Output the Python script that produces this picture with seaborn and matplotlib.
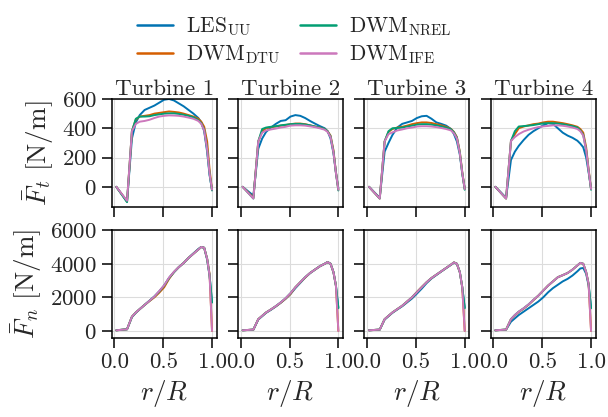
import matplotlib
matplotlib.use('Agg')
import matplotlib.pyplot as plt
from matplotlib.lines import Line2D
import seaborn as sns
import pandas as pd

# radial stations (r/R), common to every series
r = [0.02, 0.13, 0.18, 0.22, 0.26, 0.31, 0.36, 0.41, 0.46, 0.51, 0.56,
     0.61, 0.66, 0.71, 0.76, 0.81, 0.86, 0.89, 0.92, 0.95, 0.975, 1.0]

turbines = ['Turbine 1', 'Turbine 2', 'Turbine 3', 'Turbine 4']
models = ['LES', 'DTU', 'NREL', 'IFE']
labels = [r'$\mathrm{LES}_{\mathrm{UU}}$', r'$\mathrm{DWM}_{\mathrm{DTU}}$',
          r'$\mathrm{DWM}_{\mathrm{NREL}}$', r'$\mathrm{DWM}_{\mathrm{IFE}}$']
colors = ['#0173b2', '#d55e00', '#029e73', '#cc78bc']

# tangential force [N/m], one row per turbine
ft_les = [
    [0, -100, 330, 440, 490, 525, 540, 555, 575, 595, 600, 590, 570, 550, 525, 500, 470, 440, 380, 240, 80, -20],
    [0, -60, 260, 330, 375, 405, 430, 450, 455, 480, 490, 485, 470, 450, 432, 415, 400, 380, 330, 230, 100, -10],
    [0, -75, 240, 300, 354, 405, 430, 440, 450, 470, 482, 485, 465, 440, 430, 418, 395, 360, 310, 220, 90, -10],
    [0, -75, 183, 240, 280, 320, 355, 380, 400, 420, 435, 430, 400, 370, 350, 335, 315, 295, 270, 200, 100, -10],
]
ft_dtu = [
    [0, -100, 380, 460, 480, 485, 490, 500, 505, 510, 515, 512, 508, 500, 490, 480, 465, 445, 410, 310, 120, -20],
    [0, -75, 310, 380, 400, 408, 412, 418, 422, 428, 432, 432, 428, 420, 412, 405, 395, 380, 350, 250, 100, -20],
    [0, -80, 310, 375, 395, 405, 410, 418, 428, 435, 440, 440, 436, 428, 420, 410, 395, 375, 340, 240, 100, -15],
    [0, -80, 313, 360, 400, 412, 420, 428, 432, 440, 445, 445, 440, 435, 428, 420, 410, 395, 370, 270, 120, -15],
]
ft_nrel = [
    [0, -105, 380, 465, 480, 480, 482, 490, 495, 500, 502, 502, 498, 492, 485, 475, 455, 435, 390, 260, 90, -25],
    [0, -80, 310, 395, 405, 410, 414, 420, 424, 428, 430, 430, 426, 420, 412, 405, 395, 378, 345, 240, 95, -25],
    [0, -80, 310, 380, 400, 402, 405, 412, 418, 425, 428, 428, 425, 420, 413, 405, 393, 372, 335, 235, 95, -20],
    [0, -80, 313, 380, 412, 415, 418, 422, 428, 433, 435, 435, 432, 428, 422, 415, 405, 385, 355, 250, 110, -20],
]
ft_ife = [
    [0, -95, 380, 430, 445, 450, 458, 470, 480, 485, 488, 487, 485, 480, 473, 465, 450, 430, 385, 255, 90, -20],
    [0, -80, 310, 370, 385, 392, 398, 405, 410, 418, 420, 420, 418, 413, 408, 400, 390, 375, 340, 235, 95, -20],
    [0, -80, 310, 360, 372, 385, 392, 400, 405, 412, 414, 414, 412, 408, 402, 395, 385, 365, 330, 230, 95, -15],
    [0, -80, 313, 340, 360, 378, 390, 400, 408, 413, 416, 420, 420, 417, 412, 405, 395, 380, 350, 250, 110, -15],
]

# normal force [N/m], one row per turbine
fn_les = [
    [40, 100, 820, 1080, 1300, 1550, 1800, 2050, 2350, 2700, 3150, 3500, 3800, 4050, 4350, 4620, 4880, 5000, 4950, 4250, 3300, 1700],
    [40, 80, 680, 880, 1080, 1260, 1460, 1680, 1920, 2200, 2550, 2860, 3180, 3440, 3650, 3850, 4000, 4100, 4000, 3500, 2700, 1400],
    [40, 80, 680, 880, 1080, 1280, 1470, 1700, 1930, 2220, 2520, 2850, 3120, 3330, 3540, 3740, 3940, 4060, 4000, 3500, 2600, 1400],
    [40, 80, 550, 750, 950, 1150, 1350, 1550, 1750, 2000, 2300, 2550, 2750, 2950, 3100, 3300, 3550, 3720, 3750, 3400, 2700, 1400],
]
fn_dtu = [
    [40, 100, 850, 1100, 1300, 1550, 1780, 2000, 2280, 2600, 3100, 3500, 3800, 4050, 4350, 4600, 4850, 5000, 4950, 4300, 3400, 0],
    [40, 80, 700, 900, 1100, 1280, 1470, 1680, 1920, 2200, 2600, 2900, 3180, 3450, 3650, 3850, 4000, 4100, 4000, 3500, 2700, 0],
    [40, 80, 700, 900, 1100, 1300, 1500, 1750, 2000, 2320, 2620, 2900, 3150, 3350, 3550, 3750, 3950, 4080, 4000, 3500, 2600, 0],
    [40, 80, 700, 930, 1130, 1330, 1560, 1830, 2100, 2400, 2700, 2950, 3200, 3320, 3450, 3650, 3900, 4050, 4000, 3500, 2800, 0],
]
fn_nrel = [
    [40, 100, 850, 1100, 1300, 1550, 1800, 2050, 2350, 2700, 3150, 3500, 3800, 4050, 4350, 4600, 4850, 5000, 4950, 4300, 3300, 1700],
    [40, 80, 700, 900, 1100, 1280, 1480, 1700, 1950, 2250, 2600, 2900, 3200, 3450, 3650, 3850, 4000, 4100, 4000, 3500, 2700, 1350],
    [40, 80, 700, 900, 1100, 1300, 1500, 1750, 2000, 2300, 2600, 2900, 3150, 3350, 3550, 3750, 3950, 4080, 4000, 3500, 2600, 1350],
    [40, 80, 700, 950, 1150, 1350, 1580, 1850, 2100, 2400, 2700, 2950, 3200, 3320, 3450, 3650, 3900, 4050, 4000, 3500, 2800, 1350],
]
fn_ife = [
    [40, 100, 850, 1100, 1300, 1550, 1800, 2050, 2380, 2720, 3180, 3520, 3800, 4050, 4350, 4600, 4850, 5000, 4950, 4300, 3300, 0],
    [40, 80, 700, 900, 1100, 1280, 1480, 1700, 1950, 2250, 2600, 2900, 3200, 3450, 3650, 3850, 4000, 4100, 4000, 3500, 2700, 0],
    [40, 80, 700, 900, 1100, 1300, 1500, 1750, 2000, 2300, 2600, 2900, 3150, 3350, 3550, 3750, 3950, 4080, 4000, 3500, 2600, 0],
    [40, 80, 700, 950, 1150, 1350, 1580, 1850, 2100, 2400, 2700, 2950, 3200, 3320, 3450, 3650, 3900, 4050, 4000, 3500, 2800, 0],
]

ft_all = {'LES': ft_les, 'DTU': ft_dtu, 'NREL': ft_nrel, 'IFE': ft_ife}
fn_all = {'LES': fn_les, 'DTU': fn_dtu, 'NREL': fn_nrel, 'IFE': fn_ife}

rows = []
for ti, tur in enumerate(turbines):
    for m in models:
        for k, rr in enumerate(r):
            rows.append({'turbine': tur, 'model': m, 'r': rr,
                         'Ft': ft_all[m][ti][k], 'Fn': fn_all[m][ti][k]})
df = pd.DataFrame(rows)

sns.set_theme(style='ticks')
plt.rcParams['font.family'] = 'serif'
plt.rcParams['font.serif'] = ['cmr10']
plt.rcParams['mathtext.fontset'] = 'cm'
plt.rcParams['axes.formatter.use_mathtext'] = True
plt.rcParams['axes.unicode_minus'] = False

palette = dict(zip(models, colors))

fig, axes = plt.subplots(2, 4, figsize=(6.08, 4.17), dpi=100, sharex=True, sharey='row')
fig.subplots_adjust(left=0.1834, right=0.980, top=0.7626, bottom=0.1894,
                    wspace=0.2, hspace=0.216)

for j, tur in enumerate(turbines):
    sub = df[df['turbine'] == tur]
    for i, q in enumerate(['Ft', 'Fn']):
        ax = axes[i, j]
        sns.lineplot(data=sub, x='r', y=q, hue='model', hue_order=models,
                     palette=palette, estimator=None, sort=False,
                     linewidth=1.4, legend=False, ax=ax)
        ax.grid(True, color='#dcdcdc', linewidth=0.8)
        ax.set_axisbelow(True)
        for s in ax.spines.values():
            s.set_linewidth(1.1)
            s.set_color('black')
        ax.tick_params(labelsize=16.5, length=7, width=1.1, color='black')
        ax.set_xlabel('')
        ax.set_ylabel('')
    axes[0, j].set_title(tur, fontsize=16.5, pad=3)
    axes[1, j].set_xlabel(r'$r/R$', fontsize=19.5)

axes[0, 0].set_ylim(-137, 600)
axes[0, 0].set_yticks([0, 200, 400, 600])
axes[1, 0].set_ylim(-420, 6000)
axes[1, 0].set_yticks([0, 2000, 4000, 6000])
axes[1, 0].set_xticks([0.0, 0.5, 1.0])
axes[1, 0].set_xticklabels(['0.0', '0.5', '1.0'])
axes[0, 0].set_ylabel(r'$\bar{F}_t\ [\mathrm{N/m}]$', fontsize=19.5)
axes[1, 0].set_ylabel(r'$\bar{F}_n\ [\mathrm{N/m}]$', fontsize=19.5)

handles = [Line2D([], [], color=c, linewidth=1.8) for c in colors]
fig.legend(handles, labels, loc='upper center', bbox_to_anchor=(0.484, 1.01),
           ncol=2, frameon=False, fontsize=15.5, columnspacing=0.9,
           handlelength=1.7, handletextpad=0.6, labelspacing=0.25)

fig.savefig('out.png', dpi=100)
